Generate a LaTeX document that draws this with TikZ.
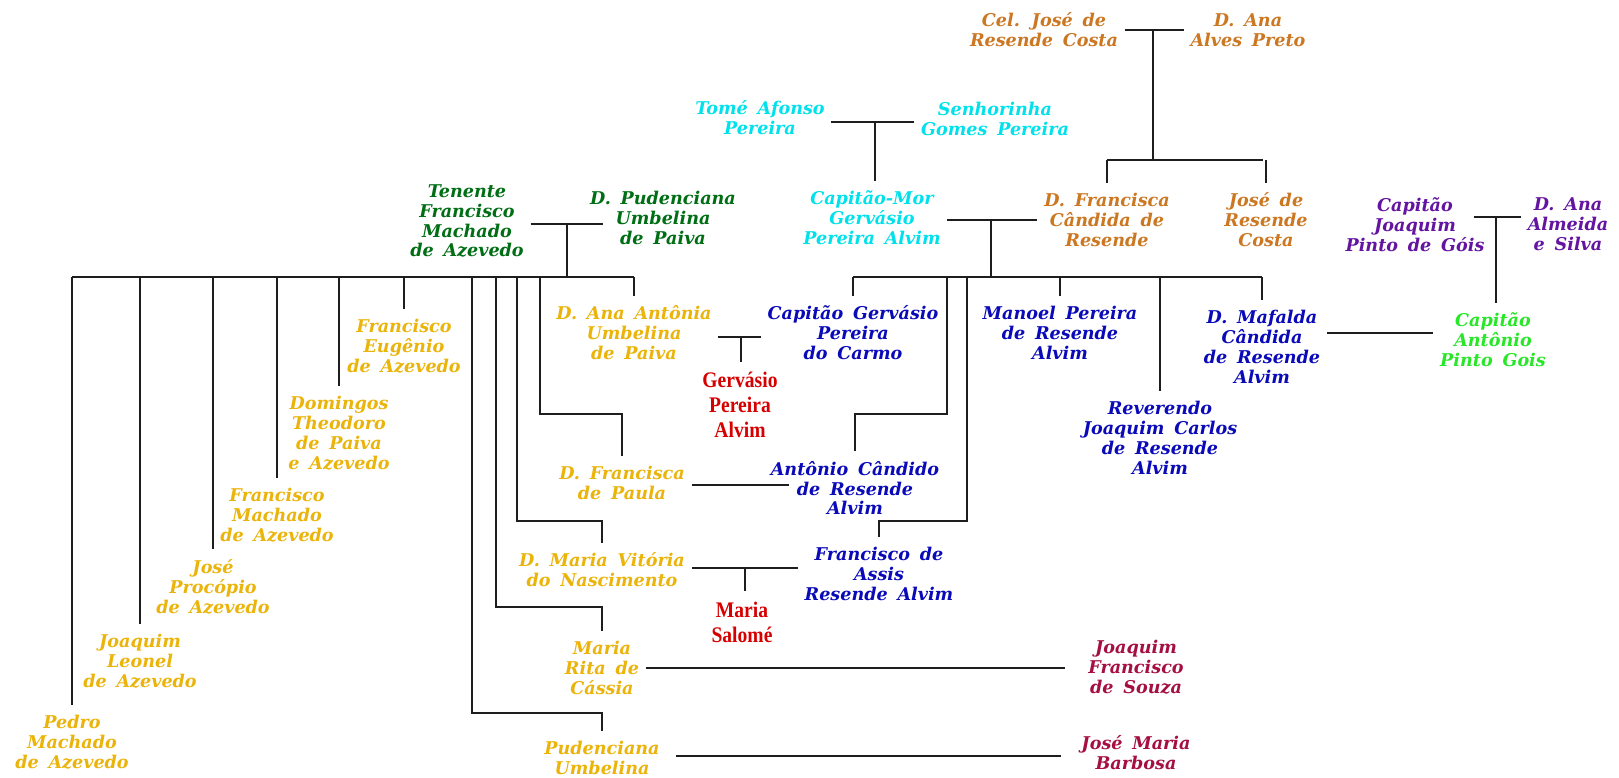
\documentclass[tikz,border=0pt]{standalone}
\usepackage{fontspec}
\usetikzlibrary{positioning, calc}

\newfontfamily\namefont[WordSpace=1.6]{DejaVu Serif}
\newfontfamily\redfont[FakeStretch=0.88]{Liberation Serif}

\definecolor{resende}{RGB}{204,119,34}
\definecolor{pereira}{RGB}{0,225,235}
\definecolor{machado}{RGB}{0,110,20}
\definecolor{azevedo}{RGB}{235,180,10}
\definecolor{alvim}{RGB}{10,10,185}
\definecolor{neto}{RGB}{215,0,0}
\definecolor{genro}{RGB}{165,15,65}
\definecolor{gois}{RGB}{100,20,160}
\definecolor{goisfilho}{RGB}{40,230,40}
\definecolor{linha}{RGB}{30,30,30}

\begin{document}
\begin{tikzpicture}[
        x=0.03cm, y=-0.03cm,
        line width=1.6pt,
        draw=linha,
        person/.style={align=center, inner sep=5pt,
            font=\namefont\bfseries\itshape\fontsize{15pt}{17pt}\selectfont},
        grandson/.style={align=center, inner sep=5pt, text=neto,
            font=\redfont\bfseries\fontsize{19pt}{21.3pt}\selectfont},
        kid/.style={shorten >=3pt}
    ]

    \fill[white] (0,0) rectangle (1619,777);
    \useasboundingbox (0,0) rectangle (1619,777);

    % Top couples
    \node[person, text=resende] (jose) at (1044,30) {Cel. José de\\Resende Costa};
    \node[person, text=resende] (anaPreto) at (1248,30) {D. Ana\\Alves Preto};
    \node[person, text=pereira] (tome) at (760,118) {Tomé Afonso\\Pereira};
    \node[person, text=pereira] (senhorinha) at (995,119) {Senhorinha\\Gomes Pereira};

    % Second generation
    \node[person, text=pereira] (gervasioMor) at (872,218) {Capitão-Mor\\Gervásio\\Pereira Alvim};
    \node[person, text=resende] (franciscaC) at (1107,220) {D. Francisca\\Cândida de\\Resende};
    \node[person, text=resende] (joseRC) at (1266,220) {José de\\Resende\\Costa};
    \node[person, text=machado] (tenente) at (467,221) {Tenente\\Francisco\\Machado\\de Azevedo};
    \node[person, text=machado] (pudenciana) at (663,218) {D. Pudenciana\\Umbelina\\de Paiva};
    \node[person, text=gois] (joaquimPG) at (1415,225) {Capitão\\Joaquim\\Pinto de Góis};
    \node[person, text=gois] (anaAlmeida) at (1568,224) {D. Ana\\Almeida\\e Silva};

    % Children of Tenente Francisco
    \node[person, text=azevedo] (pedro) at (72,742) {Pedro\\Machado\\de Azevedo};
    \node[person, text=azevedo] (joaquimL) at (140,661) {Joaquim\\Leonel\\de Azevedo};
    \node[person, text=azevedo] (joseP) at (213,587) {José\\Procópio\\de Azevedo};
    \node[person, text=azevedo] (franciscoM) at (277,515) {Francisco\\Machado\\de Azevedo};
    \node[person, text=azevedo] (domingos) at (339,433) {Domingos\\Theodoro\\de Paiva\\e Azevedo};
    \node[person, text=azevedo] (franciscoE) at (404,346) {Francisco\\Eugênio\\de Azevedo};
    \node[person, text=azevedo] (anaAntonia) at (634,333) {D. Ana Antônia\\Umbelina\\de Paiva};
    \node[person, text=azevedo] (franciscaP) at (622,483) {D. Francisca\\de Paula};
    \node[person, text=azevedo] (mariaV) at (602,570) {D. Maria Vitória\\do Nascimento};
    \node[person, text=azevedo] (mariaR) at (602,668) {Maria\\Rita de\\Cássia};
    \node[person, text=azevedo] (pudencianaU) at (602,758) {Pudenciana\\Umbelina};

    % Children of Capitao-Mor Gervasio
    \node[person, text=alvim] (capGervasio) at (853,333) {Capitão Gervásio\\Pereira\\do Carmo};
    \node[person, text=alvim] (antonioC) at (855,488) {Antônio Cândido\\de Resende\\Alvim};
    \node[person, text=alvim] (franciscoA) at (879,574) {Francisco de\\Assis\\Resende Alvim};
    \node[person, text=alvim] (manoel) at (1060,333) {Manoel Pereira\\de Resende\\Alvim};
    \node[person, text=alvim] (reverendo) at (1160,438) {Reverendo\\Joaquim Carlos\\de Resende\\Alvim};
    \node[person, text=alvim] (mafalda) at (1262,347) {D. Mafalda\\Cândida\\de Resende\\Alvim};
    \node[person, text=goisfilho] (antonioPG) at (1493,340) {Capitão\\Antônio\\Pinto Gois};

    % Spouses and grandchildren
    \node[grandson] (gervasioPA) at (740,405) {Gervásio\\Pereira\\Alvim};
    \node[grandson] (mariaS) at (742,622) {Maria\\Salomé};
    \node[person, text=genro] (joaquimF) at (1136,667) {Joaquim\\Francisco\\de Souza};
    \node[person, text=genro] (joseMB) at (1136,753) {José Maria\\Barbosa};

    % Junctions
    \coordinate (rc) at (1153,30);
    \coordinate (rcbar) at (1153,160);
    \coordinate (ts) at (875,122);
    \coordinate (gf) at (991,220);
    \coordinate (gbar) at (991,277);
    \coordinate (tp) at (567,224);
    \coordinate (abar) at (567,277);
    \coordinate (ja) at (1496,217);
    \coordinate (jal) at (1474,217);

    % Resende Costa family
    \draw (jose.east |- rc) -- (anaPreto.west |- rc);
    \draw (rc) -- (rcbar);
    \draw[kid] (franciscaC.north |- rcbar) -- (joseRC.north |- rcbar);
    \draw[kid] (franciscaC.north |- rcbar) -- (franciscaC.north);
    \draw[kid] (joseRC.north |- rcbar) -- (joseRC.north);

    % Pereira family
    \draw (tome.east |- ts) -- (senhorinha.west |- ts);
    \draw[kid] (ts) -- (ts |- gervasioMor.north);

    % Gois family
    \draw (jal) -- (anaAlmeida.west |- ja);
    \draw[kid] (ja) -- (ja |- antonioPG.north);

    % Tenente Francisco and D. Pudenciana
    \draw[shorten >=-0.6cm] (tenente.east |- tp) -- (pudenciana.west |- tp);
    \draw (tp) -- (abar);
    \draw (pedro.north |- abar) -- (anaAntonia.north |- abar);
    \foreach \k in {pedro, joaquimL, joseP, franciscoM, domingos, franciscoE, anaAntonia}
        \draw[kid] (\k.north |- abar) -- (\k.north);
    \coordinate (e1) at (472,713);
    \coordinate (e2) at (496,607);
    \coordinate (e3) at (517,521);
    \coordinate (e4) at (540,414);
    \draw[kid] (e1 |- abar) -- (e1) -| (pudencianaU.north);
    \draw[kid] (e2 |- abar) -- (e2) -| (mariaR.north);
    \draw[kid] (e3 |- abar) -- (e3) -| (mariaV.north);
    \draw[kid] (e4 |- abar) -- (e4) -| (franciscaP.north);

    % Capitao-Mor Gervasio and D. Francisca Candida
    \draw (gervasioMor.east |- gf) -- (franciscaC.west |- gf);
    \draw (gf) -- (gbar);
    \draw (capGervasio.north |- gbar) -- (mafalda.north |- gbar);
    \foreach \k in {capGervasio, manoel, reverendo, mafalda}
        \draw[kid] (\k.north |- gbar) -- (\k.north);
    \coordinate (e5) at (947,414);
    \coordinate (e6) at (967,521);
    \draw[kid] (e5 |- gbar) -- (e5) -| (antonioC.north);
    \draw[kid] (e6 |- gbar) -- (e6) -| (franciscoA.north);

    % Marriages of the children
    \coordinate (ac) at (741,337);
    \draw (anaAntonia.east |- ac) -- (capGervasio.west |- ac);
    \draw[kid] (ac) -- (ac |- gervasioPA.north);
    \coordinate (fa) at (742,485);
    \draw[shorten >=-0.75cm] (franciscaP.east |- fa) -- (antonioC.west |- fa);
    \coordinate (mf) at (745,568);
    \draw (mariaV.east |- mf) -- (franciscoA.west |- mf);
    \draw[kid] (mf) -- (mf |- mariaS.north);
    \coordinate (mj) at (860,668);
    \draw[shorten >=0.5cm] (mariaR.east |- mj) -- (joaquimF.west |- mj);
    \coordinate (pj) at (870,756);
    \draw[shorten <=0.3cm, shorten >=0.4cm] (pudencianaU.east |- pj) -- (joseMB.west |- pj);
    \coordinate (ma) at (1380,333);
    \draw (mafalda.east |- ma) -- (antonioPG.west |- ma);

\end{tikzpicture}
\end{document}
